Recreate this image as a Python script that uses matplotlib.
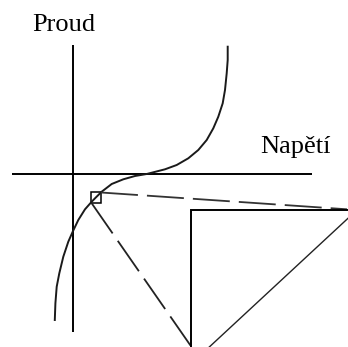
import matplotlib
matplotlib.use("Agg")
import matplotlib.pyplot as plt
from matplotlib.patches import Rectangle

# Diagram coordinates: origin at the axes crossing, units ~ pixels
curve_u = [-17.9, -17.3, -16, -13.4, -9.4, -4.4, 0, 5.6, 12.3, 19, 23.1, 29,
           39, 50.6, 62.3, 74, 80.6, 92.3, 104, 115.6, 125.6, 134, 140.6,
           145.6, 150, 152.3, 154, 155, 155]
curve_i = [-146, -129.3, -112.7, -99.3, -82.7, -67.7, -57.7, -46, -35.3, -27.7,
           -23.5, -17.7, -10, -5.3, -2, 0, 1.7, 4.7, 9, 15.7, 24, 34, 45.7,
           57.3, 70.7, 84, 100.7, 114, 127.3]

axis_u_range = [-61, 239]
axis_i_range = [-158, 129]

point_u, point_i, point_size = 23.1, -23.5, 10.5

dash1_u = [28.3, 274.3]
dash1_i = [-18.5, -35.3]
dash2_u = [18.8, 117.8]
dash2_i = [-29, -171.5]

tri_u = [118.3, 118.3, 275.3]
tri_i = [-173, -36, -36]
diag_u = [136.6, 275.3]
diag_i = [-173, -44.3]

labels = {"Proud": (-40, 143), "Napětí": (188, 20.7)}

fig = plt.figure(figsize=(3.48, 3.47), dpi=100)
ax = fig.add_axes([0, 0, 1, 1])
ax.set_xlim(-72.7, 348 - 72.7)
ax.set_ylim(174 - 347, 174)
ax.axis("off")

ax.plot(axis_u_range, [0, 0], color="black", lw=1.4, solid_capstyle="butt")
ax.plot([0, 0], axis_i_range, color="black", lw=1.4, solid_capstyle="butt")

ax.plot(curve_u, curve_i, color="#1a1a1a", lw=1.4, solid_joinstyle="round")

ax.plot(dash1_u, dash1_i, color="#333333", lw=1.3, dashes=(20.5, 5))
ax.plot(dash2_u, dash2_i, color="#222222", lw=1.3, dashes=(20.5, 5))

ax.add_patch(Rectangle((point_u - point_size / 2, point_i - point_size / 2),
                       point_size, point_size, fill=False,
                       edgecolor="black", lw=1.1))

ax.plot(tri_u, tri_i, color="black", lw=1.4, solid_joinstyle="miter")
ax.plot(diag_u, diag_i, color="#222222", lw=1.0)

for txt, (u, i) in labels.items():
    ax.text(u, i, txt, fontsize=19, family="Liberation Serif",
            ha="left", va="baseline", color="black")

fig.savefig("out.png", dpi=100)
